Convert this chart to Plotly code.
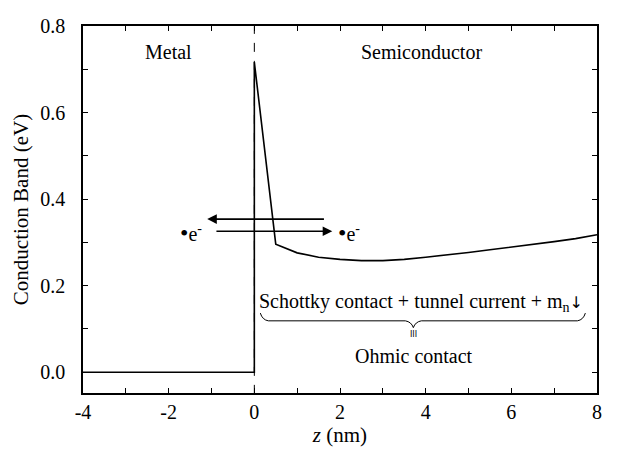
import plotly.graph_objects as go

# Conduction band profile
z_nm = [-4, 0, 0, 0.5, 1.0, 1.5, 2.0, 2.5, 3.0, 3.5, 4.0, 4.5, 5.0, 5.5, 6.0, 6.5, 7.0, 7.5, 8.0]
cb_ev = [0.0, 0.0, 0.717, 0.296, 0.276, 0.266, 0.261, 0.258, 0.258, 0.261, 0.266, 0.271, 0.277, 0.283, 0.289, 0.295, 0.302, 0.309, 0.318]

x_tickvals = [-4, -2, 0, 2, 4, 6, 8]
x_ticktext = ["-4", "-2", "0", "2", "4", "6", "8"]
y_tickvals = [0.0, 0.2, 0.4, 0.6, 0.8]
y_ticktext = ["0.0", "0.2", "0.4", "0.6", "0.8"]

FONT = "Times New Roman"
SYM = "DejaVu Sans"

fig = go.Figure()
fig.add_trace(go.Scatter(x=z_nm, y=cb_ev, mode="lines",
                         line=dict(color="black", width=1.6), showlegend=False,
                         hoverinfo="skip"))

fig.add_shape(type="line", x0=0, x1=0, y0=-0.05, y1=0.8, xref="x", yref="y",
              line=dict(color="black", width=1, dash="dash"), layer="below")

def px2d(px, py):
    return ((px - 254) / 42.83, (372 - py) / 446.0)

pts = [(260, 311), (262, 318), (268, 319), (405, 319), (411, 320), (413, 326),
       (415, 320), (421, 319), (577, 319), (583, 318), (585, 311)]
p = [px2d(*q) for q in pts]
path = f"M {p[0][0]},{p[0][1]} Q {p[1][0]},{p[1][1]} {p[2][0]},{p[2][1]} L {p[3][0]},{p[3][1]} Q {p[4][0]},{p[4][1]} {p[5][0]},{p[5][1]} Q {p[6][0]},{p[6][1]} {p[7][0]},{p[7][1]} L {p[8][0]},{p[8][1]} Q {p[9][0]},{p[9][1]} {p[10][0]},{p[10][1]}"
fig.add_shape(type="path", path=path, xref="x", yref="y",
              line=dict(color="black", width=1))

fig.add_annotation(x=-1.1, y=0.354, ax=1.66, ay=0.354, xref="x", yref="y",
                   axref="x", ayref="y", text="", showarrow=True,
                   arrowhead=2, arrowsize=1.2, arrowwidth=1.6, arrowcolor="black")
fig.add_annotation(x=1.82, y=0.326, ax=-0.92, ay=0.326, xref="x", yref="y",
                   axref="x", ayref="y", text="", showarrow=True,
                   arrowhead=2, arrowsize=1.2, arrowwidth=1.6, arrowcolor="black")

tf = dict(family=FONT, size=20, color="black")
dot = "<span style='font-size:24px'>•</span>e<sup>-</sup>"
fig.add_annotation(x=-1.47, y=0.322, text=dot, showarrow=False, font=tf, xanchor="center")
fig.add_annotation(x=2.2, y=0.322, text=dot, showarrow=False, font=tf, xanchor="center")
fig.add_annotation(x=-2.0, y=0.74, text="Metal", showarrow=False, font=tf)
fig.add_annotation(x=3.9, y=0.74, text="Semiconductor", showarrow=False, font=tf)
fig.add_annotation(x=3.88, y=0.161,
                   text="Schottky contact + tunnel current + m<sub>n</sub><span style='font-family:DejaVu Sans;font-size:16px'>↓</span>",
                   showarrow=False, font=tf)
fig.add_annotation(x=3.72, y=0.088, text="III", showarrow=False,
                   font=dict(family=SYM, size=8, color="black"))
fig.add_annotation(x=3.72, y=0.038, text="Ohmic contact", showarrow=False, font=tf)

axis_common = dict(showline=True, linecolor="black", linewidth=1.5, mirror="ticks",
                   ticks="inside", ticklen=5, tickwidth=1.2, tickcolor="black",
                   showgrid=False, zeroline=False, ticklabeloverflow="allow",
                   tickfont=dict(family=FONT, size=20, color="black"))

fig.update_xaxes(range=[-4, 8], tickvals=x_tickvals, ticktext=x_ticktext,
                 minor=dict(dtick=1, tick0=0, ticks="inside", ticklen=5, tickcolor="black"),
                 title=dict(text="<i>z</i> (nm)", font=dict(family=FONT, size=21, color="black"), standoff=6),
                 **axis_common)
fig.update_yaxes(range=[-0.048, 0.8005], tickvals=y_tickvals, ticktext=y_ticktext,
                 ticklabelstandoff=12,
                 minor=dict(dtick=0.1, tick0=0, ticks="inside", ticklen=5, tickcolor="black"),
                 title=dict(text="Conduction Band (eV)", font=dict(family=FONT, size=21, color="black"), standoff=6),
                 **axis_common)

fig.update_layout(width=617, height=445, margin=dict(l=75, r=28, t=7, b=60),
                  plot_bgcolor="white", paper_bgcolor="white",
                  font=dict(family=FONT))

fig.write_html("out.html")
